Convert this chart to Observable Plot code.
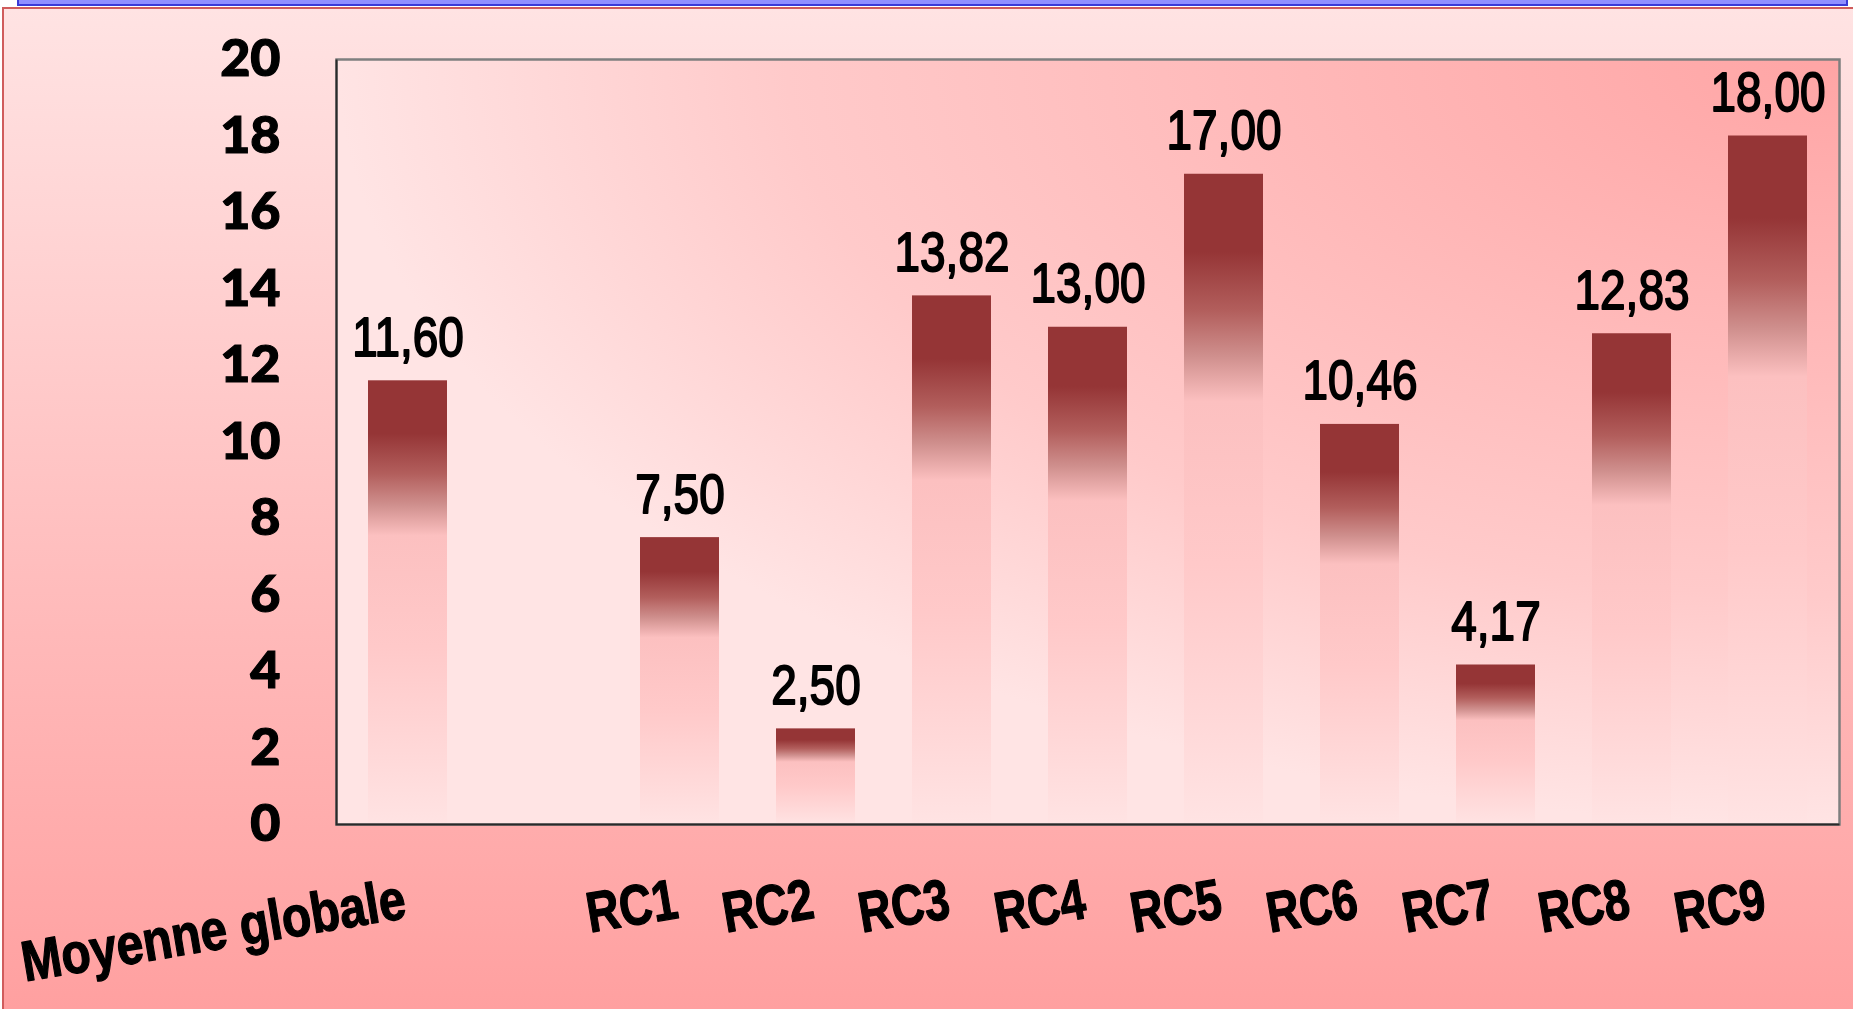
<!DOCTYPE html>
<html lang="fr">
<head>
<meta charset="utf-8">
<title>Moyennes par RC</title>
<script src="https://cdn.jsdelivr.net/npm/d3@7"></script>
<script src="https://cdn.jsdelivr.net/npm/@observablehq/plot@0.6"></script>
<style>
  html, body { margin: 0; padding: 0; background: #ffffff; overflow: hidden; }
  #page { position: relative; width: 1853px; height: 1009px; }
  #header {
    position: absolute; left: 17px; top: 0; width: 1827px; height: 4px;
    background: #8f8fff;
    border-left: 2px solid #3a3ad8; border-right: 2px solid #3a3ad8; border-bottom: 2px solid #3a3ad8;
  }
  #panel {
    position: absolute; left: 2px; top: 7px; right: 0; bottom: 0;
    border-top: 2px solid #d05c5c; border-left: 2px solid #d05c5c;
    background: linear-gradient(to bottom, #ffe3e3 0%, #ffa0a0 100%);
  }
  #chart { position: absolute; left: 0; top: 0; }
</style>
</head>
<body>
<div id="page">
  <div id="header"></div>
  <div id="panel"></div>
  <div id="chart"></div>
</div>
<script>
// Categories, in display order
const labels = ["Moyenne globale", "RC1", "RC2", "RC3", "RC4", "RC5", "RC6", "RC7", "RC8", "RC9"];
// Average score per category
const values = [11.60, 7.50, 2.50, 13.82, 13.00, 17.00, 10.46, 4.17, 12.83, 18.00];
// Slots along the x axis: an empty slot separates the global average from the RCs
const xSlots = [labels[0], "", ...labels.slice(1)];
// Y axis tick values
const yTicks = [0, 2, 4, 6, 8, 10, 12, 14, 16, 18, 20];

const rows = labels.map((label, i) => ({label, value: values[i]}));
const frNumber = (v) => v.toFixed(2).replace(".", ",");

const W = 1853, H = 1009;
const M = {top: 59, right: 14, bottom: 185, left: 336};
const frameW = W - M.left - M.right;
const frameH = H - M.top - M.bottom;

const chart = Plot.plot({
  width: W,
  height: H,
  marginTop: M.top,
  marginRight: M.right,
  marginBottom: M.bottom,
  marginLeft: M.left,
  style: {
    background: "transparent",
    color: "#000",
    fontFamily: "Lato, 'Open Sans', sans-serif",
    fontSize: "52px",
    fontWeight: "900",
    overflow: "visible"
  },
  x: {domain: xSlots, paddingInner: 0.42, paddingOuter: 0.21, axis: null},
  y: {domain: [0, 20], ticks: yTicks, tickFormat: (d) => String(d), tickSize: 0, tickPadding: 56, label: null},
  marks: [
    // plot area background
    Plot.frame({fill: "url(#plotBg)", stroke: "none"}),
    // bars
    Plot.barY(rows, {x: "label", y: "value", fill: "url(#barGrad)"}),
    // frame: grey on top/right, dark on bottom/left
    Plot.frame({stroke: "#7f7f7f", strokeWidth: 2.5, fill: "none"}),
    Plot.frame({stroke: "#2a2a2a", strokeWidth: 2, fill: "none",
                strokeDasharray: `0 ${frameW + frameH} ${frameW + frameH}`}),
    // value labels above bars
    Plot.text(rows, {
      x: "label", y: "value", text: (d) => frNumber(d.value),
      dy: -25, lineAnchor: "bottom", textAnchor: "middle",
      fontFamily: "'Liberation Sans', Arial, sans-serif", fontSize: 56, fontWeight: "normal",
      fill: "#000", stroke: "#000", strokeWidth: 1.9
    }),
    // category labels under the axis
    Plot.text(labels, {
      x: (d) => d, frameAnchor: "bottom", dy: 93,
      rotate: -9.5, textAnchor: "end", lineAnchor: "bottom",
      fontFamily: "'Liberation Sans', Arial, sans-serif", fontSize: 57, fontWeight: "bold",
      fill: "#000", stroke: "#000", strokeWidth: 1.3
    })
  ]
});

// gradients used by the frame background and the bars
const defs = d3.select(chart).insert("defs", ":first-child");
const bg = defs.append("radialGradient")
  .attr("id", "plotBg").attr("cx", 1).attr("cy", 0).attr("fx", 1).attr("fy", 0).attr("r", 1);
[[0, "#ffa5a5"], [0.45, "#ffbdbd"], [0.7, "#ffcaca"], [1, "#ffe4e4"]]
  .forEach(([o, c]) => bg.append("stop").attr("offset", o).attr("stop-color", c));
const bar = defs.append("linearGradient")
  .attr("id", "barGrad").attr("x1", 0).attr("y1", 0).attr("x2", 0).attr("y2", 1);
[[0, "#953536"], [0.12, "#953536"], [0.21, "#b25e5c"], [0.28, "#cf8f8d"], [0.35, "#fcc0c0"],
 [0.6, "#ffc9c9"], [0.85, "#ffd9d9"], [1, "#ffe3e3"]]
  .forEach(([o, c]) => bar.append("stop").attr("offset", o).attr("stop-color", c));

// narrow the label glyphs horizontally around their anchors
function condense(node, k) {
  d3.select(node).selectAll("text").each(function (d, i) {
    const el = this;
    let t = el.getAttribute("transform") || "";
    if (el.hasAttribute("x") && !t) {
      t = `translate(${el.getAttribute("x")},${el.getAttribute("y") || 0})`;
      el.removeAttribute("x"); el.removeAttribute("y");
    }
    const s = typeof k === "function" ? k(el.textContent, i) : k;
    el.setAttribute("transform", `${t} scale(${s},1)`);
  });
}
const textGroups = chart.querySelectorAll('g[aria-label="text"]');
if (textGroups[0]) condense(textGroups[0], 0.82);
// the long first label is set a little wider than the short RC codes
if (textGroups[1]) condense(textGroups[1], (txt) => (txt.length > 4 ? 0.84 : 0.8));

// heavier strokes for the y tick labels
d3.select(chart).selectAll('g[aria-label^="y-axis"] text')
  .attr("stroke", "#000").attr("stroke-width", 1.2).attr("paint-order", "stroke");

document.getElementById("chart").appendChild(chart);
</script>
</body>
</html>
